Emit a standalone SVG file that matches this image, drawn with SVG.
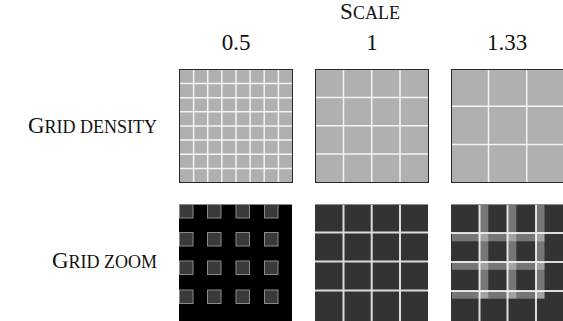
<svg xmlns="http://www.w3.org/2000/svg" width="563" height="321" viewBox="0 0 563 321">
<style>
  text { font-family: "Liberation Serif", "DejaVu Serif", serif; fill: #111; }
  .big { font-size: 23px; }
  .sc { font-size: 18px; }
  .num { font-size: 23px; text-anchor: middle; }
  .lightpanel { fill: #b0b0b0; stroke: #2a2a2a; stroke-width: 1; }
  .darkpanel { fill: #333333; }
  .blackpanel { fill: #000000; }
  .gl { stroke: #f4f4f4; stroke-width: 1.5; }
  .glz { stroke: #dcdcdc; stroke-width: 2; }
  .sq { fill: #3a3a3a; stroke: #8a8a8a; stroke-width: 1; }
  .band { fill: #ffffff; fill-opacity: 0.33; }
  .ptop { stroke: #8a8a8a; stroke-width: 1; }
</style>

<g id="header">
  <text x="370" y="19" text-anchor="middle"><tspan class="big">S</tspan><tspan class="sc">CALE</tspan></text>
  <text class="num" x="236" y="50">0.5</text>
  <text class="num" x="372" y="50">1</text>
  <text class="num" x="507" y="50">1.33</text>
</g>

<g id="row-labels">
  <text x="157" y="133" text-anchor="end"><tspan class="big">G</tspan><tspan class="sc">RID DENSITY</tspan></text>
  <text x="157" y="268" text-anchor="end"><tspan class="big">G</tspan><tspan class="sc">RID ZOOM</tspan></text>
</g>

<g id="density-0.5">
  <rect class="lightpanel" x="179.5" y="69.5" width="113" height="113"/>
  <g class="gl">
    <line x1="193.6" y1="70" x2="193.6" y2="182"/>
    <line x1="207.7" y1="70" x2="207.7" y2="182"/>
    <line x1="221.8" y1="70" x2="221.8" y2="182"/>
    <line x1="236" y1="70" x2="236" y2="182"/>
    <line x1="250.1" y1="70" x2="250.1" y2="182"/>
    <line x1="264.2" y1="70" x2="264.2" y2="182"/>
    <line x1="278.4" y1="70" x2="278.4" y2="182"/>
    <line x1="180" y1="83.6" x2="292" y2="83.6"/>
    <line x1="180" y1="97.7" x2="292" y2="97.7"/>
    <line x1="180" y1="111.8" x2="292" y2="111.8"/>
    <line x1="180" y1="126" x2="292" y2="126"/>
    <line x1="180" y1="140.1" x2="292" y2="140.1"/>
    <line x1="180" y1="154.2" x2="292" y2="154.2"/>
    <line x1="180" y1="168.4" x2="292" y2="168.4"/>
  </g>
</g>

<g id="density-1">
  <rect class="lightpanel" x="315.5" y="69.5" width="113" height="113"/>
  <g class="gl">
    <line x1="343.5" y1="70" x2="343.5" y2="182"/>
    <line x1="371.7" y1="70" x2="371.7" y2="182"/>
    <line x1="400" y1="70" x2="400" y2="182"/>
    <line x1="316" y1="97.5" x2="428" y2="97.5"/>
    <line x1="316" y1="125.7" x2="428" y2="125.7"/>
    <line x1="316" y1="154" x2="428" y2="154"/>
  </g>
</g>

<g id="density-1.33">
  <rect class="lightpanel" x="451.5" y="69.5" width="113" height="113"/>
  <g class="gl">
    <line x1="488.5" y1="70" x2="488.5" y2="182"/>
    <line x1="526.7" y1="70" x2="526.7" y2="182"/>
    <line x1="452" y1="106.3" x2="564" y2="106.3"/>
    <line x1="452" y1="144.5" x2="564" y2="144.5"/>
  </g>
</g>

<g id="zoom-0.5">
  <rect class="blackpanel" x="179" y="204" width="113" height="117"/>
  <line class="ptop" x1="179" y1="204.5" x2="292" y2="204.5"/>
  <g class="sq">
    <rect x="179.5" y="204.5" width="13.5" height="13.5"/><rect x="207.5" y="204.5" width="13.5" height="13.5"/><rect x="236" y="204.5" width="13.5" height="13.5"/><rect x="264.5" y="204.5" width="13.5" height="13.5"/>
    <rect x="179.5" y="232.5" width="13.5" height="13.5"/><rect x="207.5" y="232.5" width="13.5" height="13.5"/><rect x="236" y="232.5" width="13.5" height="13.5"/><rect x="264.5" y="232.5" width="13.5" height="13.5"/>
    <rect x="179.5" y="261" width="13.5" height="13.5"/><rect x="207.5" y="261" width="13.5" height="13.5"/><rect x="236" y="261" width="13.5" height="13.5"/><rect x="264.5" y="261" width="13.5" height="13.5"/>
    <rect x="179.5" y="290" width="13.5" height="13.5"/><rect x="207.5" y="290" width="13.5" height="13.5"/><rect x="236" y="290" width="13.5" height="13.5"/><rect x="264.5" y="290" width="13.5" height="13.5"/>
  </g>
</g>

<g id="zoom-1">
  <rect class="darkpanel" x="315" y="204" width="113" height="117"/>
  <line class="ptop" x1="315" y1="204.5" x2="428" y2="204.5"/>
  <g class="glz">
    <line x1="343.5" y1="205" x2="343.5" y2="321"/>
    <line x1="371.7" y1="205" x2="371.7" y2="321"/>
    <line x1="400" y1="205" x2="400" y2="321"/>
    <line x1="315" y1="232.5" x2="428" y2="232.5"/>
    <line x1="315" y1="261.5" x2="428" y2="261.5"/>
    <line x1="315" y1="290.5" x2="428" y2="290.5"/>
  </g>
</g>

<g id="zoom-1.33">
  <rect class="darkpanel" x="451" y="204" width="113" height="117"/>
  <line class="ptop" x1="451" y1="204.5" x2="564" y2="204.5"/>
  <g class="glz">
    <line x1="479.5" y1="205" x2="479.5" y2="321"/>
    <line x1="507.5" y1="205" x2="507.5" y2="321"/>
    <line x1="536" y1="205" x2="536" y2="321"/>
    <line x1="451" y1="233" x2="564" y2="233"/>
    <line x1="451" y1="262" x2="564" y2="262"/>
    <line x1="451" y1="291" x2="564" y2="291"/>
  </g>
  <g class="band">
    <rect x="479.3" y="205" width="9" height="93.5"/>
    <rect x="507.3" y="205" width="9" height="93.5"/>
    <rect x="536" y="205" width="8.5" height="93.5"/>
    <rect x="452" y="233.3" width="92.5" height="8"/>
    <rect x="452" y="261.8" width="92.5" height="8"/>
    <rect x="452" y="290.7" width="92.5" height="8"/>
  </g>
</g>
</svg>
